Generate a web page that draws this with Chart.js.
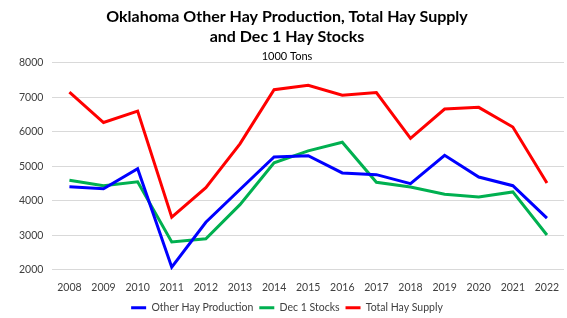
<!DOCTYPE html>
<html>
<head>
<meta charset="utf-8">
<script src="https://cdn.jsdelivr.net/npm/chart.js@4/dist/chart.umd.min.js"></script>
<style>
  html, body { margin: 0; padding: 0; background: #fff; }
  #wrap { width: 567px; height: 318px; position: relative; }
</style>
</head>
<body>
<div id="wrap"><canvas id="hayChart"></canvas></div>
<script>
// Données (1000 tonnes)
const years = ['2008', '2009', '2010', '2011', '2012', '2013', '2014', '2015',
               '2016', '2017', '2018', '2019', '2020', '2021', '2022'];
const otherHayProduction = [4410, 4350, 4930, 2080, 3380, 4330, 5270, 5310,
                            4810, 4760, 4500, 5320, 4690, 4440, 3500];
const dec1Stocks = [4600, 4440, 4550, 2810, 2900, 3890, 5100, 5450,
                    5700, 4540, 4400, 4190, 4110, 4260, 3010];
const totalHaySupply = [7150, 6270, 6600, 3530, 4380, 5650, 7220, 7350,
                        7060, 7140, 5810, 6660, 6710, 6140, 4520];
const yTicks = [2000, 3000, 4000, 5000, 6000, 7000, 8000];

const fontFamily = "Lato, 'Open Sans', sans-serif";
const textColor = '#404040';

function lineSet(label, data, color) {
    return {
        label: label,
        data: data,
        borderColor: color,
        backgroundColor: color,
        borderWidth: 3,
        pointRadius: 0,
        tension: 0,
        fill: false,
        pointStyle: 'line'
    };
}

new Chart(document.getElementById('hayChart'), {
    type: 'line',
    data: {
        labels: years,
        datasets: [
            lineSet('Other Hay Production', otherHayProduction, '#0000FF'),
            lineSet('Dec 1 Stocks', dec1Stocks, '#00B050'),
            lineSet('Total Hay Supply', totalHaySupply, '#FF0000')
        ]
    },
    options: {
        responsive: true,
        maintainAspectRatio: false,
        animation: false,
        layout: { padding: { left: 10, right: 3, top: 4, bottom: -5 } },
        plugins: {
            title: {
                display: true,
                text: ['Oklahoma Other Hay Production, Total Hay Supply', 'and Dec 1 Hay Stocks'],
                color: '#000',
                font: { family: fontFamily, size: 16, weight: 'bold', lineHeight: 1.3 },
                padding: { top: 2, bottom: 2 }
            },
            subtitle: {
                display: true,
                text: '1000 Tons',
                color: '#000',
                font: { family: fontFamily, size: 11 },
                padding: { top: 0, bottom: 0 }
            },
            legend: {
                position: 'bottom',
                labels: {
                    color: textColor,
                    font: { family: fontFamily, size: 10.5 },
                    usePointStyle: true,
                    pointStyleWidth: 15,
                    boxHeight: 3,
                    padding: 6
                }
            },
            tooltip: { enabled: false }
        },
        scales: {
            x: {
                offset: true,
                grid: { display: false },
                border: { display: false },
                ticks: {
                    color: textColor,
                    font: { family: fontFamily, size: 10.5 },
                    maxRotation: 0,
                    autoSkip: false,
                    padding: 3
                }
            },
            y: {
                min: 2000,
                max: 8000,
                afterBuildTicks: axis => { axis.ticks = yTicks.map(v => ({ value: v })); },
                grid: { color: '#D9D9D9', lineWidth: 1, drawTicks: false },
                border: { display: false },
                ticks: {
                    color: textColor,
                    font: { family: fontFamily, size: 10.5 },
                    padding: 9,
                    callback: v => String(v)
                }
            }
        }
    }
});
</script>
</body>
</html>
